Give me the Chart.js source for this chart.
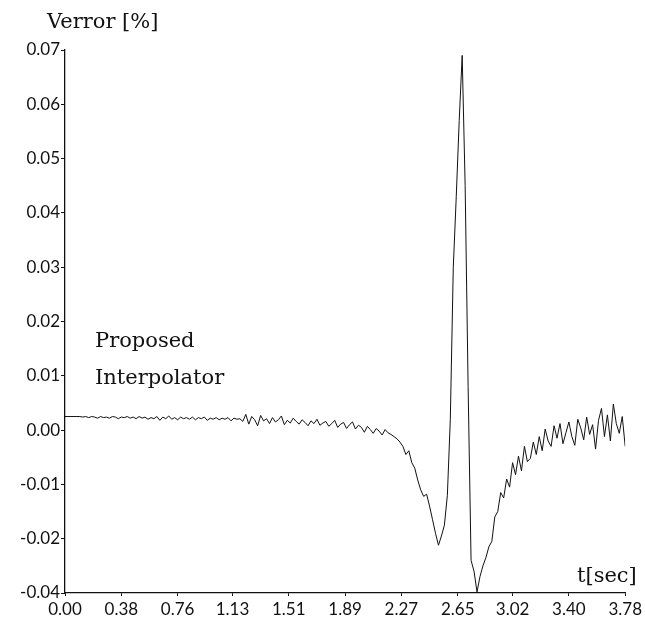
<!DOCTYPE html>
<html>
<head>
<meta charset="utf-8">
<script src="https://cdn.jsdelivr.net/npm/chart.js@4"></script>
<style>
    body { margin: 0; background: #fff; }
    #wrap { width: 645px; height: 626px; }
</style>
</head>
<body>
<div id="wrap"><canvas id="verrorChart"></canvas></div>
<script>
// samples are 0.02 s apart, starting at t = 0
const sampleStep = 0.02;

// Verror [%], one value per sample
const verror = [
    0.0025, 0.0025, 0.0025, 0.0025, 0.0025, 0.0025, 0.0024, 0.0025, 0.0023, 0.0025,
    0.0024, 0.0022, 0.0025, 0.0023, 0.0024, 0.0022, 0.0025, 0.0024, 0.0021, 0.0024,
    0.0023, 0.0025, 0.0022, 0.0024, 0.0021, 0.0025, 0.0022, 0.0024, 0.0020, 0.0023,
    0.0021, 0.0025, 0.0018, 0.0024, 0.0021, 0.0026, 0.0020, 0.0023, 0.0019, 0.0024,
    0.0021, 0.0023, 0.0020, 0.0024, 0.0019, 0.0023, 0.0021, 0.0024, 0.0018, 0.0022,
    0.0020, 0.0023, 0.0019, 0.0022, 0.0020, 0.0023, 0.0017, 0.0022, 0.0020, 0.0021,
    0.0016, 0.0029, 0.0011, 0.0025, 0.0019, 0.0008, 0.0027, 0.0017, 0.0021, 0.0012,
    0.0023, 0.0015, 0.0019, 0.0026, 0.0010, 0.0018, 0.0013, 0.0022, 0.0016, 0.0011,
    0.0019, 0.0014, 0.0008, 0.0017, 0.0012, 0.0020, 0.0009, 0.0013, 0.0016, 0.0007,
    0.0012, 0.0018, 0.0005, 0.0011, 0.0014, 0.0003, 0.0010, 0.0015, 0.0002, 0.0009,
    0.0005, -0.0004, 0.0007, 0.0001, -0.0006, 0.0003, -0.0002, -0.0009, 0.0001, -0.0005,
    -0.0008, -0.0012, -0.0016, -0.0022, -0.0030, -0.0045, -0.0038, -0.0060, -0.0070, -0.0092,
    -0.0110, -0.0122, -0.0118, -0.0140, -0.0165, -0.0190, -0.0212, -0.0195, -0.0175, -0.0120,
    0.0020, 0.0300, 0.0430, 0.0570, 0.0690, 0.0450, 0.0080, -0.0240, -0.0260, -0.0298,
    -0.0270, -0.0250, -0.0235, -0.0215, -0.0205, -0.0160, -0.0150, -0.0115, -0.0125, -0.0090,
    -0.0105, -0.0060, -0.0082, -0.0048, -0.0075, -0.0030, -0.0058, -0.0052, -0.0022, -0.0045,
    -0.0012, -0.0038, 0.0002, -0.0020, -0.0030, 0.0008, -0.0015, 0.0012, -0.0025, -0.0005,
    0.0015, -0.0012, -0.0028, 0.0020, 0.0004, -0.0018, 0.0024, -0.0008, 0.0010, -0.0035,
    0.0018, 0.0040, -0.0012, 0.0028, -0.0020, 0.0048, 0.0012, -0.0006, 0.0025, -0.0030
];

const xTickLabels = ['0.00', '0.38', '0.76', '1.13', '1.51', '1.89', '2.27', '2.65', '3.02', '3.40', '3.78'];
// bottom label in the original figure reads -0.04
const yTickLabels = ['-0.04', '-0.02', '-0.01', '0.00', '0.01', '0.02', '0.03', '0.04', '0.05', '0.06', '0.07'];

const points = verror.map((v, i) => ({ x: i * sampleStep, y: v }));

const serif = '"DejaVu Serif", "Liberation Serif", serif';

// axis titles and the curve note are plain text on the canvas
const textPlugin = {
    id: 'figureText',
    afterDraw(chart) {
        const ctx = chart.ctx;
        const area = chart.chartArea;
        ctx.save();
        ctx.fillStyle = '#111';
        ctx.font = '21px ' + serif;
        ctx.textAlign = 'left';
        ctx.textBaseline = 'alphabetic';
        ctx.fillText('Verror [%]', area.left - 18, 28);
        ctx.fillText('t[sec]', 577, area.bottom - 11);
        ctx.fillText('Proposed', area.left + 30, 347);
        ctx.fillText('Interpolator', area.left + 30, 384);
        ctx.restore();
    }
};

new Chart(document.getElementById('verrorChart'), {
    type: 'line',
    data: {
        datasets: [{
            data: points,
            borderColor: '#111',
            borderWidth: 1,
            pointRadius: 0,
            tension: 0
        }]
    },
    options: {
        responsive: true,
        maintainAspectRatio: false,
        animation: false,
        layout: { padding: { top: 50, right: 18, left: 0, bottom: 0 } },
        plugins: {
            legend: { display: false },
            tooltip: { enabled: false }
        },
        scales: {
            x: {
                type: 'linear',
                min: 0,
                max: 3.78,
                afterBuildTicks: (scale) => {
                    scale.ticks = xTickLabels.map(s => ({ value: parseFloat(s) }));
                },
                afterFit: (scale) => { scale.height = 33; },
                ticks: {
                    autoSkip: false,
                    maxRotation: 0,
                    padding: 3,
                    color: '#111',
                    font: { family: 'Lato', size: 17 },
                    callback: (value, index) => xTickLabels[index]
                },
                grid: { drawOnChartArea: false, tickLength: 3, color: '#111' },
                border: { color: '#111', width: 1.3 }
            },
            y: {
                min: -0.03,
                max: 0.07,
                afterBuildTicks: (scale) => {
                    scale.ticks = yTickLabels.map((s, i) => ({ value: -0.03 + i * 0.01 }));
                },
                afterFit: (scale) => { scale.width = 65; },
                ticks: {
                    autoSkip: false,
                    padding: 1,
                    color: '#111',
                    font: { family: 'Lato', size: 17 },
                    callback: (value, index) => yTickLabels[index]
                },
                grid: { drawOnChartArea: false, tickLength: 4, color: '#111' },
                border: { color: '#111', width: 1.3 }
            }
        }
    },
    plugins: [textPlugin]
});
</script>
</body>
</html>
